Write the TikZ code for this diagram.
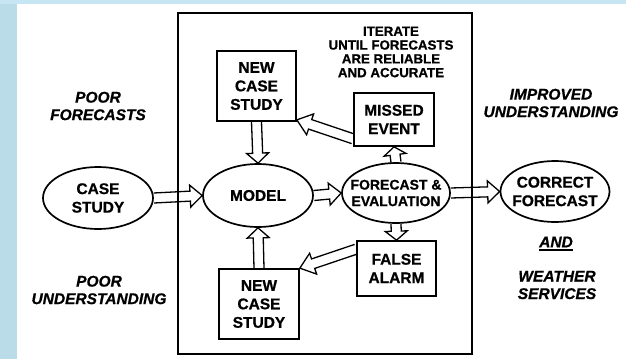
\documentclass[tikz,border=0pt]{standalone}
\usepackage{fontspec}
\setmainfont{Liberation Sans}[BoldFeatures={FakeBold=0.8}, BoldItalicFeatures={FakeBold=0.8}]
\usetikzlibrary{shapes.geometric,calc}
\definecolor{bgblue}{RGB}{186,220,232}
\definecolor{bgtop}{RGB}{198,230,244}
\tikzset{
  boxtext/.style={font=\bfseries\fontsize{15.5}{18.5}\selectfont, align=center},
  rbox/.style={draw, line width=1.7pt, boxtext, inner sep=0pt},
  oval/.style={ellipse, draw, line width=1.7pt, boxtext, inner xsep=-12pt, inner ysep=0pt},
  lbl/.style={font=\bfseries\itshape\fontsize{15.5}{17.5}\selectfont, align=center, inner sep=0pt},
  itnote/.style={font=\bfseries\fontsize{13.3}{13.8}\selectfont, align=center, inner sep=0pt},
  hollow/.style={line width=1.3pt, line join=miter, to path={
     let \p1=(\tikztostart), \p2=(\tikztotarget), \p3=($(\p2)!#1!(\p1)$) in
     ($(\p1)!5pt!90:(\p2)$) -- ($(\p3)!5pt!90:(\p2)$) -- ($(\p3)!11pt!90:(\p2)$)
     -- (\p2) -- ($(\p3)!11pt!-90:(\p2)$) -- ($(\p3)!5pt!-90:(\p2)$)
     -- ($(\p1)!5pt!-90:(\p2)$)}},
  hollow/.default=12pt
}
\begin{document}
\begin{tikzpicture}[x=1pt,y=-1pt]
\fill[bgblue] (0,0) rectangle (626,359);
\fill[bgtop] (0,0) rectangle (626,4);
\fill[white] (17,4) rectangle (626,359);
\useasboundingbox (0,0) rectangle (626,359);

% loop frame
\node[draw, line width=1.7pt, minimum width=294pt, minimum height=341pt, inner sep=0pt] (loop) at (325,183.5) {};

% main chain
\node[oval, minimum width=110pt, minimum height=62pt] (cs) at (98,198) {CASE\\STUDY};
\node[oval, minimum width=110pt, minimum height=63pt] (model) at (258,195.5) {MODEL};
\node[oval, minimum width=108pt, minimum height=60pt, font=\bfseries\fontsize{14}{16.5}\selectfont] (fe) at (396,193) {FORECAST \&\\EVALUATION};
\node[oval, minimum width=109pt, minimum height=61pt] (cf) at (555,191.5) {CORRECT\\FORECAST};

% boxes
\node[rbox, minimum width=79pt, minimum height=70pt] (ncs1) at (256.5,86) {NEW\\CASE\\STUDY};
\node[rbox, minimum width=80pt, minimum height=70pt] (ncs2) at (259,304) {NEW\\CASE\\STUDY};
\node[rbox, minimum width=80pt, minimum height=53pt] (me) at (394,119.5) {MISSED\\EVENT};
\node[rbox, minimum width=79pt, minimum height=55pt] (fa) at (396.5,268.5) {FALSE\\ALARM};

% labels
\node[lbl] (pf) at (98,106) {POOR\\FORECASTS};
\node[lbl] (pu) at (99,290) {POOR\\UNDERSTANDING};
\node[lbl] (iu) at (551,103) {IMPROVED\\UNDERSTANDING};
\node[lbl] (and) at (556,242) {AND};
\node[lbl] (ws) at (557,285) {WEATHER\\SERVICES};
\node[itnote] (it) at (391,52) {ITERATE\\UNTIL FORECASTS\\ARE RELIABLE\\AND ACCURATE};
\draw[line width=1.8pt] ([yshift=-3pt]and.base west) -- ([yshift=-3pt]and.base east);

% arrows
\draw[hollow] (cs.east) to (model.west);
\draw[hollow] (model.east) to (fe.west);
\draw[hollow] (fe.east) to (cf.west);
\draw[hollow=10pt] (ncs1.south) to (model.north);
\draw[hollow=10pt] (ncs2.north) to (model.south);
\draw[hollow=8pt] (fe.north) to (me.south);
\draw[hollow=9pt] (fe.south) to (fa.north);
\draw[hollow=14pt] ([yshift=8pt]me.south west) to ([yshift=2pt]ncs1.south east);
\draw[hollow=14pt] ([yshift=-9pt]fa.north west) to (ncs2.north east);
\end{tikzpicture}
\end{document}
